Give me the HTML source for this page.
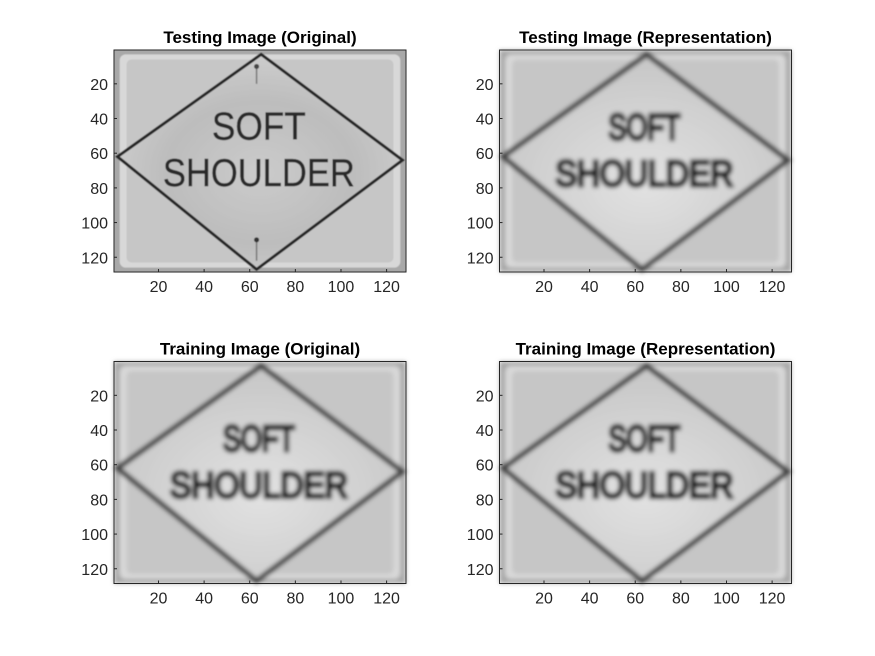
<!DOCTYPE html>
<html><head><meta charset="utf-8"><style>
body{margin:0;background:#fff}
svg{display:block;font-family:"Liberation Sans",Arial,sans-serif}
</style></head><body>
<svg id="fig" width="875" height="656" viewBox="0 0 875 656">
<defs>
<filter id="b1" x="-10%" y="-10%" width="120%" height="120%"><feGaussianBlur stdDeviation="0.6"/></filter>
<filter id="b3" x="-10%" y="-10%" width="120%" height="120%"><feGaussianBlur stdDeviation="2"/></filter>
<radialGradient id="gc" cx="50%" cy="55%" r="55%"><stop offset="0" stop-color="#cbcbcb"/><stop offset="0.6" stop-color="#bdbdbd"/><stop offset="1" stop-color="#cdcdcd"/></radialGradient>
<radialGradient id="gs" cx="50%" cy="60%" r="55%"><stop offset="0" stop-color="#e2e2e2"/><stop offset="1" stop-color="#c8c8c8"/></radialGradient>
</defs>
</svg>
<script>
const xTicks=[20,40,60,80,100,120];
const yTicks=[20,40,60,80,100,120];
const titles=["Testing Image (Original)","Testing Image (Representation)","Training Image (Original)","Training Image (Representation)"];
const blurs=["b1","b3","b3","b3"];
const crisp=[true,false,false,false];
const diamond=[[65,3],[127,64],[63,127],[2,62]];
const panels=[[114,50],[499.5,50],[114,361.5],[499.5,361.5]];
const W=292,H=222,N=128;
const svg=document.getElementById('fig');
const NS='http://www.w3.org/2000/svg';
function mk(t,a,p){const e=document.createElementNS(NS,t);for(const k in a)e.setAttribute(k,a[k]);(p||svg).appendChild(e);return e;}
panels.forEach((p,i)=>{
  const [L,T]=p;
  const sx=v=>L+(v-0.5)/N*W, sy=v=>T+(v-0.5)/N*H;
  const g=mk('g',{});
  
  
  const img=mk('g',{filter:'url(#'+blurs[i]+')'},g);
  
  
  mk('rect',{x:L,y:T,width:W,height:H,fill:'#a8a8a8'},img);
  mk('rect',{x:sx(3),y:sy(3),width:sx(126)-sx(3),height:sy(126)-sy(3),fill:'#d8d8d8',rx:6},img);
  mk('rect',{x:sx(6),y:sy(6),width:sx(123)-sx(6),height:sy(123)-sy(6),fill:'#c6c6c6',rx:5},img);
  const pts=diamond.map(d=>sx(d[0])+','+sy(d[1])).join(' ');
  mk('polygon',{points:pts,fill:crisp[i]?'url(#gc)':'url(#gs)',stroke:crisp[i]?'#262626':'#404040',"stroke-width":crisp[i]?3:5.5},img);
  const fs=crisp[i]?30:28;
  const col=crisp[i]?'#2a2a2a':'#0a0a0a';
  const sw=crisp[i]?0.3:2.5;
  const t1=mk('text',{x:sx(64),y:sy(52),"font-size":fs,"text-anchor":"middle",fill:col,stroke:col,"stroke-width":sw,"textLength":crisp[i]?94:72,"lengthAdjust":"spacingAndGlyphs",transform:'translate(0,'+(-sy(52)*0.3)+') scale(1,1.3)'},img);
  t1.textContent='SOFT';
  const t2=mk('text',{x:sx(64),y:sy(79),"font-size":fs,"text-anchor":"middle",fill:col,stroke:col,"stroke-width":sw,"textLength":crisp[i]?192:178,"lengthAdjust":"spacingAndGlyphs",transform:'translate(0,'+(-sy(79)*0.3)+') scale(1,1.3)'},img);
  t2.textContent='SHOULDER';
  if(crisp[i]){
    mk('line',{x1:sx(63),y1:sy(10),x2:sx(63),y2:sy(20),stroke:'#777',"stroke-width":1.5},img);
    mk('circle',{cx:sx(63),cy:sy(10),r:2.5,fill:'#444'},img);
    mk('line',{x1:sx(63),y1:sy(110),x2:sx(63),y2:sy(122),stroke:'#777',"stroke-width":1.5},img);
    mk('circle',{cx:sx(63),cy:sy(110),r:2.5,fill:'#333'},img);
  }
  const ax=mk('rect',{x:L,y:T,width:W,height:H,fill:'none',stroke:'#262626',"stroke-width":1},g);
  
  
  xTicks.forEach(v=>{
    mk('line',{x1:sx(v),x2:sx(v),y1:T+H,y2:T+H-3,stroke:'#262626'},g);
    const t=mk('text',{x:sx(v),y:T+H+20,"font-size":16,"text-anchor":"middle",fill:'#262626'},g);
    
    
    t.textContent=v;
  });
  yTicks.forEach(v=>{
    mk('line',{x1:L,x2:L+3,y1:sy(v),y2:sy(v),stroke:'#262626'},g);
    const t=mk('text',{x:L-6,y:sy(v)+6,"font-size":16,"text-anchor":"end",fill:'#262626'},g);
    
    
    t.textContent=v;
  });
  const tt=mk('text',{x:L+W/2,y:T-7,"font-size":17,"font-weight":"bold","text-anchor":"middle",fill:'#000'},g);
  
  
  tt.textContent=titles[i];
});
</script>
</body></html>
